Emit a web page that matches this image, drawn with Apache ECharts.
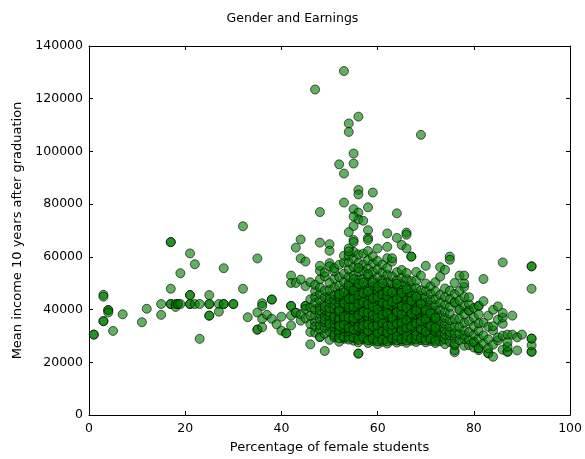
<!DOCTYPE html>
<html><head><meta charset="utf-8">
<script src="https://cdn.jsdelivr.net/npm/echarts@6/dist/echarts.min.js"></script>
<style>html,body{margin:0;padding:0;background:#fff}#c{width:585px;height:459px}</style>
</head><body><div id="c"></div>
<script>
// Sparse points on the left (low share of female students)
const sparsePct = [1,1,3,3,3,3,4,4,4,5,7,11,12,15,15,17,17,17,17,17,18,18,18.5,18.5,19,19,21,21,21,21,21,22,22,23,23,25,25,25,25,25,27,27,28,28,28,30,30,32,32,33,35,35,35,35,36,36,36,36,37,38,38,38,39,40,40,41,41,42,42,42,42,42,42,43,43,43,43,44,44,44,44,44,45,45,45,45,45,45,46,46,46,46,46,46,46];
const sparseIncome = [30500,30500,45600,44900,35600,35600,39800,39800,38900,31900,38200,35200,40300,42100,38000,42100,42100,47900,65600,65600,42100,41000,42100,42100,42100,53800,42100,42100,61300,45500,45500,42100,57200,42100,28900,42100,42100,45500,37700,37700,42100,39200,42100,42100,55700,42100,42100,47900,71600,37100,59400,32400,32400,38900,36500,33300,42400,41400,38000,43800,43800,36500,34400,37300,32000,31000,31000,41400,41400,37700,34000,52900,50100,38800,38800,50100,63500,35800,38200,66600,59400,51400,41400,41400,40200,58200,48900,36700,26800,50400,31500,34500,37700,40800,43900];

// Outliers above the main cloud
const highPct = [47,53,56,54,54,69,55,55,52,53,56,56,59,53,55,48,56,58,64,56,57,55,54,58,50,50,48,62,66,66,64,55,55,58,58,55,54,54,65,66,62,60,67,67,75,75,86,92,92,92];
const highIncome = [123500,130500,113200,110600,107400,106300,99200,95400,95100,91600,85400,83700,84400,80600,78100,77000,76800,78800,76500,74200,73700,71700,69400,70100,64800,62300,65400,68900,69200,68400,67200,66400,65600,67200,66400,75300,63200,62100,64500,63200,63800,63200,60100,60100,60100,58900,57900,56400,56400,47900];

// Main cloud, one column per share of female students
const clusterPct = [47,48,49,50,51,52,53,54,55,56,57,58,59,60,61,62,63,64,65,66,67,68,69,70,71,72,73,74,75,76,77,78,79,80,81,82,83,84,85,86,87,88,89,90,92];
const clusterIncome = [
 [31200,35300,37800,40100,42600,44800,47000,49400,33600],
 [29600,29600,32500,34100,36500,38400,41000,43500,45800,48400,51500,54700,56600,39700],
 [24300,30800,33000,35200,37400,39900,42300,44700,47200,52600,36200,41100,54000],
 [28500,31600,33800,35900,37500,39000,40600,42800,45000,47500,50100,34600,43900,57600,56400],
 [29500,31200,33000,34700,36300,38100,40000,41900,43700,45600,48400,51800,54500,37200,30300,55700],
 [27800,30400,32200,34100,35600,37000,38700,40300,42000,43900,46200,49000,52300,31300,36300,44800,57000],
 [28900,30100,31900,33400,35100,36800,38200,39900,41500,43300,45100,47800,50500,53600,57800,60400,32600,40700,35900],
 [29300,30700,32100,33500,34900,36200,37600,39000,40400,41800,43200,44700,46300,48100,50000,52400,55200,58000,60500,31400,38300,42500,47000,35500],
 [28200,29900,31500,33100,34600,36000,37400,38900,40300,41700,43000,44600,46200,48000,50200,53000,56100,59300,61900,30800,35300,39500,45400,42200],
 [23300,23300,27600,29400,31000,32600,34000,35500,37000,38400,39800,41300,42900,44500,46400,48600,51300,54400,57700,60900,30300,36400,43600,40500],
 [28700,30300,31800,33300,34700,36100,37600,39100,40600,42100,43700,45300,47100,49100,51600,54600,57100,61200,32500,38000,44500,35300],
 [27300,29000,30600,32100,33600,35000,36500,38000,39500,41000,42600,44200,45900,47800,50100,52800,55600,58700,62200,31400,37300,43400,40300],
 [28100,29700,31300,32800,34300,35700,37200,38700,40200,41700,43300,45000,46800,48900,51400,54300,57500,60200,30400,36100,42400,39300],
 [26900,28600,30200,31700,33200,34700,36200,37700,39200,40700,42300,43900,45600,47500,49700,52300,55300,58400,29500,35400,41400,46600,38500],
 [27800,29400,31000,32500,34000,35500,37000,38500,40000,41600,43200,44900,46700,48800,51200,54100,57000,30100,36300,44100,39200],
 [27100,28800,30400,31900,33400,34900,36400,37900,39400,41000,42600,44300,46100,48100,50500,53200,55800,59500,29700,35600,43500,40200],
 [28300,29900,31500,33000,34500,36000,37500,39000,40600,42200,43900,45700,47700,50000,52600,58200,59500,30700,38200,41400,35200],
 [27500,29200,30800,32300,33800,35300,36800,38300,39800,41400,43100,44800,46600,48700,51100,54200,31600,37600,42300],
 [28000,29600,31200,32700,34200,35700,37200,38800,40400,42000,43700,45500,47400,49600,52100,55000,30400,36400,44600,39600],
 [27400,29100,30700,32200,33700,35200,36700,38200,39800,41400,43100,44900,46800,49000,51600,53900,31400,39000,34400],
 [28200,29800,31400,32900,34400,35900,37500,39100,40700,42400,44200,46100,48300,50800,30500,36700,41600],
 [27700,29300,30900,32400,33900,35500,37100,38700,40400,42100,43900,45900,48200,51000,54300,31800,38000],
 [28400,30000,31600,33100,34700,36300,37900,39600,41300,43100,45100,47300,52900,32300,40200],
 [27600,29200,30800,32400,34000,35600,37200,38900,40700,42600,44700,47100,49900,56600,33300],
 [28100,29700,31300,32900,34500,36200,37900,39700,41600,43700,46000,48800,30500],
 [27300,28900,30600,32300,34000,35800,37600,39500,41600,44000,46900,50400,31500],
 [28000,29800,31700,33600,35600,37700,40000,42600,45600,52500,56100],
 [26900,28700,30600,32500,34600,36800,39200,41900,44800,48000,55100],
 [27700,30200,31500,33600,35900,38400,41100,44000,47100],
 [23800,24600,26500,29000,31000,33500,36400,42700,42700,45900,50100,27100],
 [28400,30800,33400,36500,39900,39900,43400,47000,52900],
 [26300,28800,30200,32100,35000,38200,41500,44800,48600,49900,52900],
 [26500,28600,31500,35500,39600,39600,42000,44700],
 [25600,27700,27700,30400,33600,37000,40600],
 [24600,25300,25300,29000,31900,34800,41400,41400,38200],
 [27100,30200,35000,51600,43200],
 [23400,23400,25300,28700,37700,33500],
 [22100,26700,32100,33700,39900],
 [28300,29400,36200,41200],
 [24800,30100,34600,37000,38700],
 [24000,24000,25900,27700,30500],
 [30500,37700],
 [24500,29500],
 [30500],
 [24000,24000,26500,29000,29000]
];

// Extra overlapping points in the darkest core of the cloud
const corePct = [52,53,54,55,56,57,58,59,60,61,62,63,64,65,66,67,68,69,70,71,72];
const coreIncome = [
 [33700,39500,45700,29100],
 [34300,37400,42400,46500,29600],
 [30000,33000,36900,40900,44000,49000,28600],
 [29300,32300,36700,41000,44000,47300,51500],
 [28500,33400,37800,42100,45500,49800,55800],
 [29600,33900,39000,42800,46300,50200],
 [28300,31900,34300,38800,42000,46800,53500],
 [29000,33600,37900,41100,44200,50300],
 [28000,31000,34000,36900,40000,44700,48600],
 [28600,32000,34800,38000,42500,45800,50000],
 [28000,31200,33800,38600,42000,45000,47000],
 [29100,32200,34200,36800,43000,46600],
 [28400,30000,34600,39000,44000,49800],
 [28800,32200,35000,38200,41200,46300],
 [28300,30100,33100,36000,40600,47700],
 [29000,33700,38400,43300],
 [28600,30200,34700,39600,44800],
 [29200,32700,35500,42200],
 [28400,31600,36400,39800],
 [29000,33700,38500],
 [28100,33100,36900]
];

const xTicks = [0,20,40,60,80,100];
const yTicks = [0,20000,40000,60000,80000,100000,120000,140000];

const points = [];
sparsePct.forEach((p,i)=>points.push([p, sparseIncome[i]]));
clusterPct.forEach((p,i)=>clusterIncome[i].forEach(v=>points.push([p, v])));
corePct.forEach((p,i)=>coreIncome[i].forEach(v=>points.push([p, v])));
highPct.forEach((p,i)=>points.push([p, highIncome[i]]));

const FONT = 'DejaVu Sans';
const lineStyle = {color:'#000', width:1};
const tick = {show:true, inside:true, length:4, lineStyle:{color:'#000', width:1}};

const chart = echarts.init(document.getElementById('c'), null, {renderer:'canvas'});
chart.setOption({
  animation:false,
  backgroundColor:'#fff',
  title:{text:'Gender and Earnings', left:'center', top:7,
    textStyle:{fontFamily:FONT, fontSize:12.5, fontWeight:'normal', color:'#000'}},
  grid:{left:89, right:12, top:46, bottom:38},
  xAxis:[
    {type:'value', min:xTicks[0], max:xTicks[xTicks.length-1], interval:20, position:'bottom',
     axisLine:{show:true, onZero:false, lineStyle}, axisTick:tick, splitLine:{show:false},
     axisLabel:{color:'#000', fontFamily:FONT, fontSize:12.5, margin:7},
     name:'Percentage of female students', nameLocation:'middle', nameGap:26,
     nameTextStyle:{color:'#000', fontFamily:FONT, fontSize:13}},
    {type:'value', min:xTicks[0], max:xTicks[xTicks.length-1], interval:20, position:'top',
     axisLine:{show:true, onZero:false, lineStyle}, axisTick:tick, splitLine:{show:false},
     axisLabel:{show:false}}
  ],
  yAxis:[
    {type:'value', min:yTicks[0], max:yTicks[yTicks.length-1], interval:20000, position:'left',
     axisLine:{show:true, onZero:false, lineStyle}, axisTick:tick, splitLine:{show:false},
     axisLabel:{color:'#000', fontFamily:FONT, fontSize:12.5, margin:6, formatter:v=>String(v)},
     name:'Mean income 10 years after graduation', nameLocation:'middle', nameGap:52,
     nameTextStyle:{color:'#000', fontFamily:FONT, fontSize:13}},
    {type:'value', min:yTicks[0], max:yTicks[yTicks.length-1], interval:20000, position:'right',
     axisLine:{show:true, onZero:false, lineStyle}, axisTick:tick, splitLine:{show:false},
     axisLabel:{show:false}}
  ],
  series:[{
    type:'scatter', xAxisIndex:0, yAxisIndex:0, data:points, symbolSize:9,
    itemStyle:{color:'#008000', borderColor:'#000', borderWidth:1, opacity:0.62},
    emphasis:{disabled:true}
  }]
});
</script>
</body></html>
